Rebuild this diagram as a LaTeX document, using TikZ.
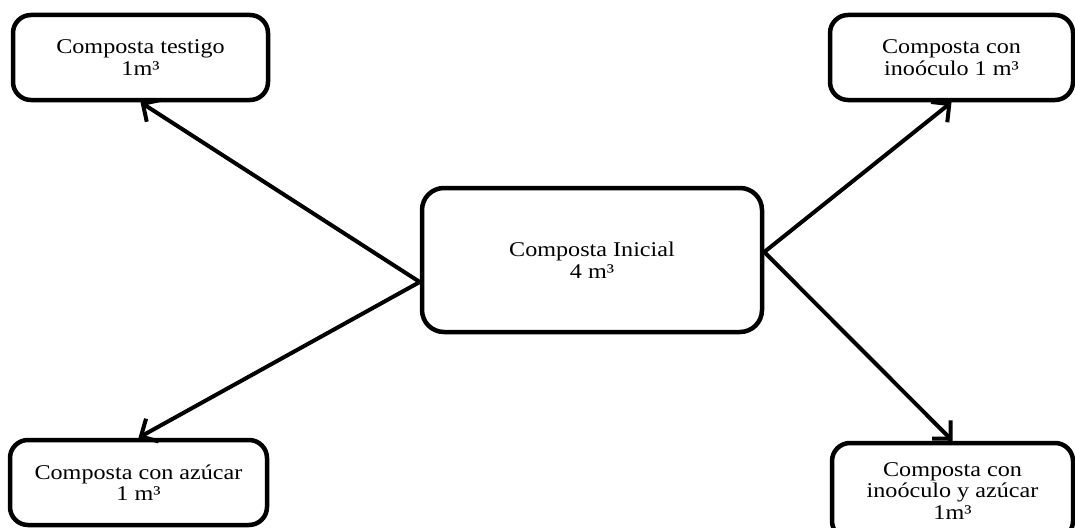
\documentclass[tikz,border=0pt]{standalone}
\usepackage{fontspec}
\setmainfont{Liberation Serif}[FakeStretch=1.15]
\usetikzlibrary{arrows.meta}
\begin{document}
\begin{tikzpicture}[x=1pt,y=-1pt,
  box/.style={draw, line width=4.5pt, rounded corners=18pt, align=center,
    inner sep=0pt, font=\fontsize{21}{21.5}\selectfont},
  link/.style={line width=4pt, -{Straight Barb[length=13pt,width=26pt]}}]
\useasboundingbox (0,0) rectangle (1075,527);
\clip (0,0) rectangle (1075,527);

% central heap
\node[box, rounded corners=22pt, minimum width=340pt, minimum height=144pt] (c) at (592,260)
  {Composta Inicial\\4 m³};

% the four treatments
\node[box, minimum width=255pt, minimum height=85pt] (tl) at (140.5,57.5)
  {Composta testigo\\1m³};
\node[box, minimum width=243pt, minimum height=85pt] (tr) at (951.5,57.5)
  {Composta con\\inoóculo 1 m³};
\node[box, minimum width=257pt, minimum height=85pt] (bl) at (138.5,482.5)
  {Composta con azúcar\\1 m³};
\node[box, minimum width=241pt, minimum height=96pt] (br) at (952.5,491)
  {Composta con\\inoóculo y azúcar\\1m³};

% branch points on the central box
\coordinate (cl) at ([yshift=-22pt]c.west);
\coordinate (cr) at ([yshift=8pt]c.east);

\draw[link] (cl) -- (tl.south);
\draw[link] (cl) -- (bl.north);
\draw[link] (cr) -- (tr.south);
\draw[link] (cr) -- (br.north);
\end{tikzpicture}
\end{document}
